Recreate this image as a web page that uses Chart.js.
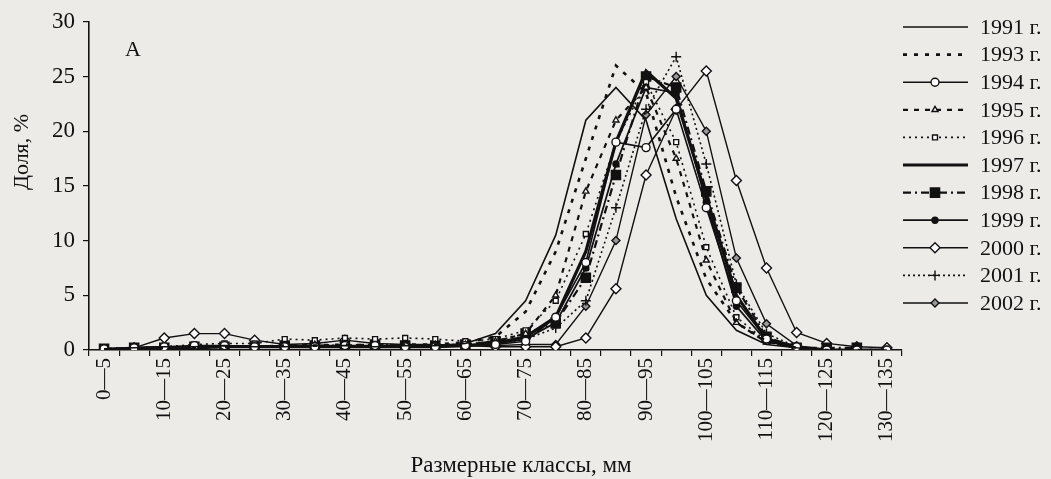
<!DOCTYPE html>
<html lang="ru">
<head>
<meta charset="UTF-8">
<title>Размерные классы</title>
<script src="https://cdn.jsdelivr.net/npm/chart.js"></script>
<style>
  html, body { margin: 0; padding: 0; background: #ecebe8; }
  #wrap { width: 1051px; height: 479px; }
</style>
</head>
<body>
<div id="wrap"><canvas id="chart"></canvas></div>
<script>
// размерные классы, мм
const categories = ['0—5','5—10','10—15','15—20','20—25','25—30','30—35','35—40','40—45','45—50',
  '50—55','55—60','60—65','65—70','70—75','75—80','80—85','85—90','90—95','95—100',
  '100—105','105—110','110—115','115—120','120—125','125—130','130—135'];
const yTicks = [0, 5, 10, 15, 20, 25, 30];
const years = ['1991 г.','1993 г.','1994 г.','1995 г.','1996 г.','1997 г.','1998 г.','1999 г.','2000 г.','2001 г.','2002 г.'];

// доля, %
const v1991 = [0.1,0.2,0.3,0.3,0.4,0.3,0.3,0.4,0.4,0.3,0.4,0.4,0.6,1.5,4.5,10.5,21,24,21,12,5,1.8,0.5,0.2,0,0,0];
const v1993 = [0,0.1,0.2,0.2,0.3,0.3,0.4,0.4,0.5,0.4,0.5,0.5,0.7,1.2,3.5,9,17.5,26,23.5,14,6.5,2.5,0.8,0.2,0,0,0];
const v1994 = [0.1,0.2,0.3,0.4,0.4,0.3,0.3,0.3,0.4,0.4,0.3,0.3,0.4,0.5,0.8,3,8,19,18.5,22,13,4.5,1,0.3,0,0,0];
const v1995 = [0,0.1,0.2,0.3,0.3,0.3,0.4,0.5,0.4,0.4,0.4,0.5,0.5,0.8,1.5,5,14.5,21,24,17.5,8.2,2.5,0.7,0.2,0,0,0];
const v1996 = [0.1,0.2,0.3,0.5,0.6,0.6,1.0,0.9,1.1,1.0,1.1,1.0,0.8,1.0,1.8,4.5,10.6,19,24.5,19,9.4,3,0.8,0.2,0,0,0];
const v1997 = [0,0.1,0.2,0.2,0.3,0.3,0.3,0.3,0.3,0.3,0.3,0.3,0.4,0.6,1.2,3,9,19,25.5,23,14,5,1,0.3,0,0,0];
const v1998 = [0.1,0.2,0.2,0.3,0.3,0.3,0.4,0.4,0.4,0.5,0.4,0.4,0.5,0.8,1.5,2.5,6.6,16,25,24,14.5,5.7,1.2,0.2,0.2,0.2,null];
const v1999 = [0.1,0.2,0.2,0.2,0.3,0.3,0.3,0.3,0.3,0.3,0.3,0.3,0.4,0.6,1,2.5,7.5,17,24,23.5,13.5,4,0.8,0.2,0,0,null];
const v2000 = [0,0.2,1.1,1.5,1.5,0.9,0.5,0.6,0.9,0.6,0.5,0.5,0.4,0.3,0.3,0.3,1.1,5.6,16,22,25.5,15.5,7.5,1.6,0.6,0.3,0.2];
const v2001 = [0,0.1,0.1,0.2,0.3,0.3,0.3,0.3,0.4,0.3,0.4,0.4,0.4,0.5,1,2,4.5,13,22,26.8,17,6,1.5,0.3,0,0,null];
const v2002 = [0.1,0.2,0.3,0.3,0.3,0.3,0.3,0.4,0.3,0.3,0.4,0.4,0.4,0.4,0.5,0.5,4,10,21.5,25,20,8.4,2.4,0.4,0,null,null];

const series = [v1991, v1993, v1994, v1995, v1996, v1997, v1998, v1999, v2000, v2001, v2002];

const INK = '#111';
const SERIF = "'Liberation Serif', 'DejaVu Serif', serif";

// стиль линий и маркеров для каждого года
const styles = [
  { w: 1.6, dash: [],            pt: false,       r: 0 },
  { w: 2.6, dash: [4, 7],        pt: false,       r: 0 },
  { w: 1.6, dash: [],            pt: 'circle',    r: 4,   bg: '#fff' },
  { w: 2.2, dash: [5, 6],        pt: 'triangle',  r: 3.5, bg: '#fff' },
  { w: 1.6, dash: [2, 4],        pt: 'rect',      r: 3.5, bg: '#fff' },
  { w: 3.2, dash: [],            pt: false,       r: 0 },
  { w: 2.2, dash: [8, 4, 2, 4],  pt: 'rect',      r: 6.5, bg: INK },
  { w: 1.8, dash: [],            pt: 'circle',    r: 3,   bg: INK },
  { w: 1.4, dash: [],            pt: 'rectRot',   r: 5,   bg: '#fff' },
  { w: 1.6, dash: [2, 3],        pt: 'cross',     r: 5,   bg: INK },
  { w: 1.4, dash: [],            pt: 'rectRot',   r: 4,   bg: '#999' }
];

const datasets = series.map((data, i) => {
  const s = styles[i];
  return {
    label: years[i],
    data: data,
    borderColor: INK,
    borderWidth: s.w,
    borderDash: s.dash,
    pointStyle: s.pt,
    pointRadius: s.r,
    pointBorderWidth: 1.4,
    pointBackgroundColor: s.bg || INK,
    pointBorderColor: INK,
    tension: 0,
    spanGaps: false
  };
});

// подписи, легенда и буква "А"
const decor = {
  id: 'decor',
  afterDraw(chart) {
    const ctx = chart.ctx;
    ctx.save();
    ctx.fillStyle = INK;
    ctx.font = '22px ' + SERIF;
    ctx.textBaseline = 'middle';
    ctx.textAlign = 'center';
    ctx.fillText('А', 133, 50);

    ctx.save();
    ctx.translate(22, 152);
    ctx.rotate(-Math.PI / 2);
    ctx.fillText('Доля, %', 0, 0);
    ctx.restore();

    ctx.font = '23px ' + SERIF;
    ctx.fillText('Размерные классы, мм', 521, 466);

    // легенда
    ctx.font = '22px ' + SERIF;
    ctx.textAlign = 'left';
    datasets.forEach((ds, i) => {
      const y = 27 + i * 27.6;
      ctx.strokeStyle = INK;
      ctx.lineWidth = ds.borderWidth;
      ctx.setLineDash(ds.borderDash);
      ctx.beginPath();
      ctx.moveTo(903, y);
      ctx.lineTo(968, y);
      ctx.stroke();
      ctx.setLineDash([]);
      if (ds.pointStyle) {
        ctx.fillStyle = ds.pointBackgroundColor;
        ctx.strokeStyle = INK;
        ctx.lineWidth = ds.pointBorderWidth;
        Chart.helpers.drawPoint(ctx, { pointStyle: ds.pointStyle, radius: ds.pointRadius, borderWidth: ds.pointBorderWidth, rotation: 0 }, 935, y);
      }
      ctx.fillStyle = INK;
      ctx.fillText(ds.label, 980, y + 1);
    });
    ctx.restore();
  }
};

new Chart(document.getElementById('chart'), {
  type: 'line',
  data: { labels: categories, datasets: datasets },
  options: {
    responsive: true,
    maintainAspectRatio: false,
    animation: false,
    layout: { padding: { top: 20, right: 149, bottom: 0, left: 0 } },
    plugins: { legend: { display: false }, tooltip: { enabled: false } },
    scales: {
      x: {
        offset: true,
        afterFit: s => { s.height = 129; },
        border: { color: INK, width: 1.6 },
        grid: { display: true, offset: true, drawOnChartArea: false, drawTicks: true, tickLength: 6, color: INK, lineWidth: 1.2 },
        ticks: {
          autoSkip: false, minRotation: 90, maxRotation: 90, padding: 2,
          color: INK, font: { family: SERIF, size: 21 },
          callback: (v, i) => (i % 2 === 0 ? categories[i] : '')
        }
      },
      y: {
        min: 0, max: 30,
        afterFit: s => { s.width = 89; },
        afterBuildTicks: s => { s.ticks = yTicks.map(v => ({ value: v })); },
        border: { color: INK, width: 1.6 },
        grid: { display: true, drawOnChartArea: false, drawTicks: true, tickLength: 6, color: INK, lineWidth: 1.2 },
        ticks: { color: INK, padding: 8, font: { family: SERIF, size: 23 } }
      }
    }
  },
  plugins: [decor]
});
</script>
</body>
</html>
